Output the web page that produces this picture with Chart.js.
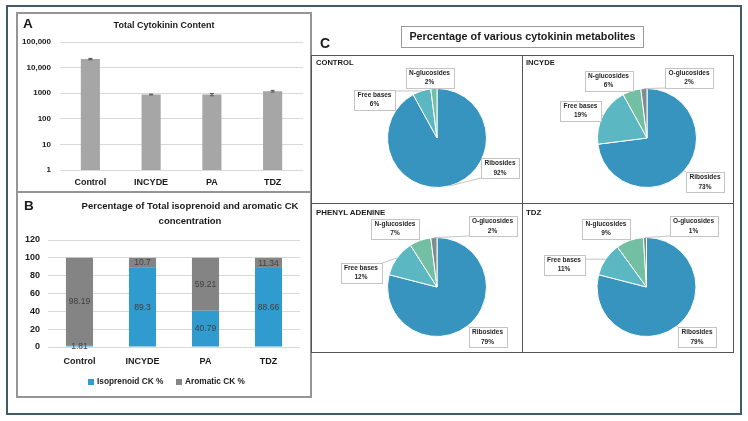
<!DOCTYPE html>
<html><head><meta charset="utf-8">
<script src="https://cdn.jsdelivr.net/npm/chart.js@4.4.1/dist/chart.umd.min.js"></script>
<style>
body{margin:0;background:#fff;width:748px;height:421px;overflow:hidden;position:relative;font-family:"Liberation Sans",Arial,sans-serif;color:#1a1a1a;}
.abs{position:absolute;box-sizing:border-box;}
canvas{position:absolute;}
.t{position:absolute;white-space:nowrap;font-weight:bold;}
</style></head><body>
<!-- data -->
<script>
const categories = ['Control','INCYDE','PA','TDZ'];
const totalCK = [21600, 890, 880, 1200];
const totalCKErr = [1300, 30, 90, 90];
const logTicks = [1, 10, 100, 1000, 10000, 100000];
const logTickLabels = ['1','10','100','1000','10,000','100,000'];
const isoprenoidPct = [1.81, 89.3, 40.79, 88.66];
const aromaticPct = [98.19, 10.7, 59.21, 11.34];
const metabolites = ['Ribosides','Free bases','N-glucosides','O-glucosides'];
const pieControl = [92, 6, 2, 0];
const pieIncyde = [73, 19, 6, 2];
const piePhenyl = [79, 12, 7, 2];
const pieTdz = [79, 11, 9, 1];
</script>

<canvas id="cA" width="294" height="179" style="left:17px;top:13px"></canvas>
<canvas id="cB" width="294" height="203" style="left:17px;top:193px"></canvas>
<canvas id="p1" width="209" height="147" style="left:313px;top:56px"></canvas>
<canvas id="p2" width="210" height="147" style="left:523px;top:56px"></canvas>
<canvas id="p3" width="209" height="148" style="left:313px;top:204px"></canvas>
<canvas id="p4" width="210" height="148" style="left:523px;top:204px"></canvas>

<div class="abs" style="left:6px;top:5px;width:736px;height:410px;border:2px solid #3f5c68;"></div>
<div class="abs" style="left:16px;top:12px;width:296px;height:181px;border:2px solid #959595;"></div>
<div class="abs" style="left:16px;top:191px;width:296px;height:207px;border:2px solid #959595;"></div>
<div class="abs" style="left:311px;top:55px;width:423px;height:298px;border:1.5px solid #555;"></div>
<div class="abs" style="left:521.5px;top:55px;width:1.5px;height:298px;background:#555;"></div>
<div class="abs" style="left:311px;top:202.5px;width:423px;height:1.5px;background:#555;"></div>
<div class="abs" style="left:401px;top:26px;width:243px;height:22px;border:1px solid #9a9a9a;"></div>

<div class="t" style="left:23px;top:16px;font-size:13.5px;line-height:16px">A</div>
<div class="t" style="left:24px;top:198px;font-size:13.5px;line-height:16px">B</div>
<div class="t" style="left:320px;top:35px;font-size:14px;line-height:16px">C</div>
<div class="t" style="left:64px;width:200px;text-align:center;top:19px;font-size:9px;line-height:12px">Total Cytokinin Content</div>
<div class="t" style="left:40px;width:300px;text-align:center;top:198px;font-size:9.5px;line-height:15px">Percentage of Total isoprenoid and aromatic CK<br>concentration</div>
<div class="t" style="left:401px;width:243px;text-align:center;top:29px;font-size:10.8px;line-height:15px">Percentage of various cytokinin metabolites</div>
<div class="t" style="left:316px;top:58px;font-size:7.6px;line-height:10px">CONTROL</div>
<div class="t" style="left:526px;top:58px;font-size:7.6px;line-height:10px">INCYDE</div>
<div class="t" style="left:316px;top:208px;font-size:7.9px;line-height:10px">PHENYL ADENINE</div>
<div class="t" style="left:526px;top:208px;font-size:7.9px;line-height:10px">TDZ</div>

<div class="abs" style="left:88px;top:378.5px;width:6px;height:6px;background:#2f9bcf"></div>
<div class="t" style="left:97px;top:376px;font-size:8.3px;line-height:11px">Isoprenoid CK %</div>
<div class="abs" style="left:176px;top:378.5px;width:6px;height:6px;background:#848484"></div>
<div class="t" style="left:185px;top:376px;font-size:8.3px;line-height:11px">Aromatic CK %</div>

<script>
Chart.defaults.font.family = '"Liberation Sans", Arial, sans-serif';
Chart.defaults.color = '#1a1a1a';
Chart.defaults.animation = false;

const errorBars = {
  id: 'errorBars',
  afterDatasetsDraw(chart) {
    const ctx = chart.ctx, y = chart.scales.y;
    const meta = chart.getDatasetMeta(0);
    ctx.save();
    ctx.strokeStyle = '#555'; ctx.lineWidth = 1;
    meta.data.forEach((bar, i) => {
      const v = totalCK[i], e = totalCKErr[i];
      const y1 = y.getPixelForValue(v + e), y2 = y.getPixelForValue(v - e);
      const x = bar.x;
      ctx.beginPath();
      ctx.moveTo(x, y1); ctx.lineTo(x, y2);
      ctx.moveTo(x - 2, y1); ctx.lineTo(x + 2, y1);
      ctx.moveTo(x - 2, y2); ctx.lineTo(x + 2, y2);
      ctx.stroke();
    });
    ctx.restore();
  }
};

new Chart(document.getElementById('cA'), {
  type: 'bar',
  data: { labels: categories, datasets: [{ data: totalCK, backgroundColor: '#a6a6a6', categoryPercentage: 1, barPercentage: 0.315 }] },
  options: {
    responsive: false,
    layout: { padding: { top: 29, right: 8, left: 0, bottom: 0 } },
    plugins: { legend: { display: false }, tooltip: { enabled: false } },
    scales: {
      x: {
        grid: { display: false, drawTicks: false }, border: { display: false },
        ticks: { font: { size: 9, weight: 'bold' }, padding: 7, maxRotation: 0 },
        afterFit(s) { s.height = 22; }
      },
      y: {
        type: 'logarithmic', min: 1, max: 100000,
        grid: { color: '#d9d9d9', drawTicks: false }, border: { display: false },
        afterBuildTicks(s) { s.ticks = logTicks.map(v => ({ value: v })); },
        ticks: { font: { size: 8, weight: 'bold' }, padding: 9,
          callback(v) { const k = logTicks.indexOf(v); return k >= 0 ? logTickLabels[k] : ''; } },
        afterFit(s) { s.width = 43; }
      }
    }
  },
  plugins: [errorBars]
});

const barLabels = {
  id: 'barLabels',
  afterDatasetsDraw(chart) {
    const ctx = chart.ctx;
    ctx.save();
    ctx.font = '8.5px "Liberation Sans", Arial, sans-serif';
    ctx.fillStyle = '#404040'; ctx.textAlign = 'center'; ctx.textBaseline = 'middle';
    chart.data.datasets.forEach((ds, di) => {
      chart.getDatasetMeta(di).data.forEach((bar, i) => {
        const p = bar.getProps(['x', 'y', 'base'], true);
        ctx.fillText(String(ds.data[i]), p.x, (p.y + p.base) / 2 + 0.5);
      });
    });
    ctx.restore();
  }
};

new Chart(document.getElementById('cB'), {
  type: 'bar',
  data: { labels: categories, datasets: [
    { label: 'Isoprenoid CK %', data: isoprenoidPct, backgroundColor: '#2f9bcf', categoryPercentage: 1, barPercentage: 0.43 },
    { label: 'Aromatic CK %', data: aromaticPct, backgroundColor: '#848484', categoryPercentage: 1, barPercentage: 0.43 }
  ] },
  options: {
    responsive: false,
    layout: { padding: { top: 47, right: 11, left: 0, bottom: 0 } },
    plugins: { legend: { display: false }, tooltip: { enabled: false } },
    scales: {
      x: {
        stacked: true,
        grid: { display: false, drawTicks: false }, border: { display: false },
        ticks: { font: { size: 9, weight: 'bold' }, padding: 9, maxRotation: 0 },
        afterFit(s) { s.height = 49; }
      },
      y: {
        stacked: true, min: 0, max: 120,
        grid: { color: '#d9d9d9', drawTicks: false }, border: { display: false },
        ticks: { stepSize: 20, font: { size: 9, weight: 'bold' }, padding: 8 },
        afterFit(s) { s.width = 31; }
      }
    }
  },
  plugins: [barLabels]
});

const pieLabels = {
  id: 'pieLabels',
  afterDatasetsDraw(chart, args, opts) {
    const ctx = chart.ctx;
    const meta = chart.getDatasetMeta(0);
    const ds = chart.data.datasets[0];
    ctx.save();
    ctx.font = 'bold 6.5px "Liberation Sans", Arial, sans-serif';
    meta.data.forEach((arc, i) => {
      const v = ds.data[i];
      if (!v) return;
      const off = opts.boxes[i];
      const p = arc.getProps(['x', 'y', 'startAngle', 'endAngle', 'outerRadius'], true);
      const mid = (p.startAngle + p.endAngle) / 2;
      const ax = p.x + Math.cos(mid) * p.outerRadius;
      const ay = p.y + Math.sin(mid) * p.outerRadius;
      const l1 = chart.data.labels[i], l2 = v + '%';
      const w = Math.round(Math.max(ctx.measureText(l1).width, ctx.measureText(l2).width) + 7);
      const h = 20;
      const cx = p.x + off[0], cy = p.y + off[1];
      const bx = Math.round(cx - w / 2), by = Math.round(cy - h / 2);
      const nx = Math.min(Math.max(ax, bx), bx + w), ny = Math.min(Math.max(ay, by), by + h);
      ctx.strokeStyle = '#c4c4c4'; ctx.lineWidth = 1;
      ctx.beginPath(); ctx.moveTo(ax, ay); ctx.lineTo(nx, ny); ctx.stroke();
      ctx.fillStyle = '#fff'; ctx.fillRect(bx, by, w, h);
      ctx.strokeRect(bx + 0.5, by + 0.5, w, h);
      ctx.fillStyle = '#262626'; ctx.textAlign = 'center'; ctx.textBaseline = 'middle';
      ctx.fillText(l1, cx, cy - 4.5);
      ctx.fillText(l2, cx, cy + 5);
    });
    ctx.restore();
  }
};

const pieColors = ['#3694be', '#5bb7c1', '#73bfa3', '#7e8b8f'];

function makePie(id, values, boxes, cx, cy, r) {
  const cv = document.getElementById(id);
  new Chart(cv, {
    type: 'pie',
    data: { labels: metabolites, datasets: [{ data: values, backgroundColor: pieColors, borderColor: '#ffffff', borderWidth: 1 }] },
    options: {
      responsive: false,
      radius: r,
      layout: { padding: { left: cx - r, right: cv.width - cx - r, top: cy - r, bottom: cv.height - cy - r } },
      plugins: { legend: { display: false }, tooltip: { enabled: false }, pieLabels: { boxes } }
    },
    plugins: [pieLabels]
  });
}

makePie('p1', pieControl, [[63, 30], [-62.5, -38.5], [-7.5, -60.5], [0, 0]], 124, 82, 49.5);
makePie('p2', pieIncyde, [[58, 44], [-66.5, -27.5], [-38.5, -57.5], [42, -60.5]], 124, 82, 49.5);
makePie('p3', piePhenyl, [[50.5, 50], [-76, -14.5], [-42, -58.5], [55.5, -61]], 124, 83, 49.5);
makePie('p4', pieTdz, [[50.5, 50], [-82.5, -22.5], [-40.5, -58.5], [47, -61]], 123.5, 83, 49.5);
</script>
</body></html>
